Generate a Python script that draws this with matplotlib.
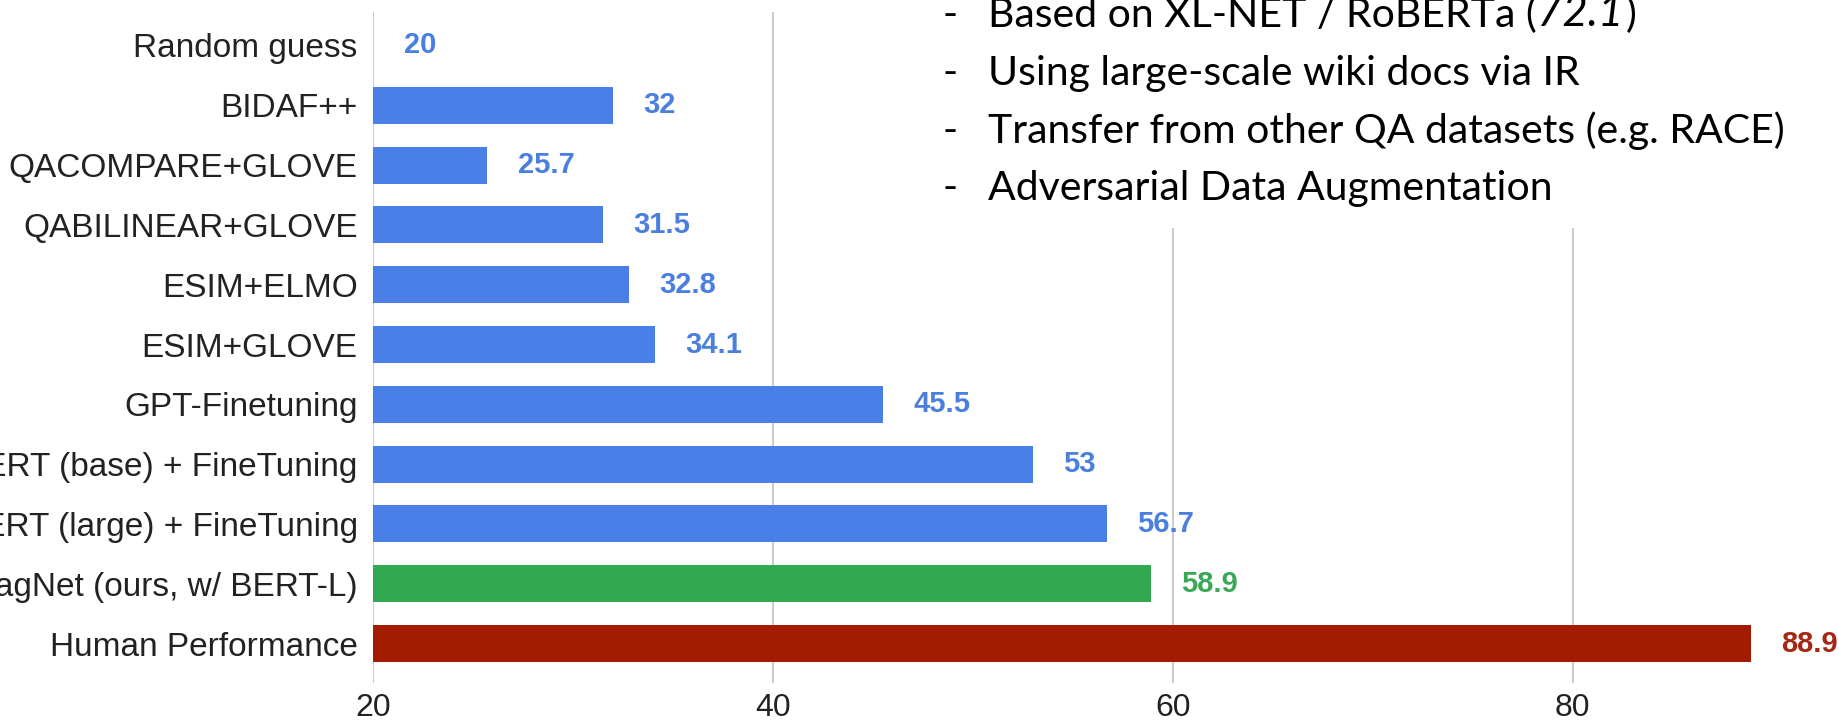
import matplotlib
matplotlib.use("Agg")
import matplotlib.pyplot as plt
from matplotlib.patches import Rectangle
from matplotlib.text import Annotation

# data
models = ["Random guess", "BIDAF++", "QACOMPARE+GLOVE", "QABILINEAR+GLOVE",
          "ESIM+ELMO", "ESIM+GLOVE", "GPT-Finetuning",
          "BERT (base) + FineTuning", "BERT (large) + FineTuning",
          "MagNet (ours, w/ BERT-L)", "Human Performance"]
scores = [20, 32, 25.7, 31.5, 32.8, 34.1, 45.5, 53, 56.7, 58.9, 88.9]
score_labels = ["20", "32", "25.7", "31.5", "32.8", "34.1", "45.5", "53", "56.7", "58.9", "88.9"]
kinds = ["base"] * 9 + ["ours", "human"]
x_ticks = [20, 40, 60, 80]

first_note = "Based on XL-NET / RoBERTa ("
first_note_score = "72.1"
notes = ["Using large-scale wiki docs via IR",
         "Transfer from other QA datasets (e.g. RACE)",
         "Adversarial Data Augmentation"]

bar_colors = {"base": "#4a7fe8", "ours": "#2fa84f", "human": "#a31b00"}
text_colors = {"base": "#4a7fe0", "ours": "#3aa857", "human": "#a52714"}

plt.rcParams['font.family'] = ['Liberation Sans', 'DejaVu Sans']

W, H = 1840, 725
fig = plt.figure(figsize=(W / 100, H / 100), dpi=100)
# axes: x=20 at px 373, 20 units per 400 px; y from px 12 to 683
ax = fig.add_axes([373 / W, (H - 683) / H, 1 - 373 / W - 0.004, (683 - 12) / H])

ypos = list(range(len(models)))
ax.barh(ypos, [s - 20 for s in scores], left=20, height=0.62,
        color=[bar_colors[k] for k in kinds], zorder=2)

for y, s, lab, k in zip(ypos, scores, score_labels, kinds):
    ax.annotate(lab, xy=(s, y), xytext=(22, 0), textcoords="offset points",
                va="center", ha="left", fontsize=21, fontweight="bold",
                color=text_colors[k])

ax.set_xlim(20, 93)
ax.set_ylim(len(models) - 1 + 0.66, -0.56)
ax.set_yticks(ypos)
ax.set_yticklabels(models, fontsize=24)
ax.set_xticks(x_ticks)
ax.set_xticklabels([str(t) for t in x_ticks], fontsize=23)
ax.tick_params(axis="both", length=0, colors="#222222")
ax.tick_params(axis="y", pad=11)
ax.tick_params(axis="x", pad=7)
ax.grid(axis="x", color="#cccccc", linewidth=1.5, zorder=0)
for sp in ax.spines.values():
    sp.set_visible(False)

# white panel for the note list in the top right corner
fig.patches.append(Rectangle((800 / W, 1 - 228 / H), 1, 1, transform=fig.transFigure,
                             facecolor="white", edgecolor="none", zorder=5))

note_font = ['Lato', 'DejaVu Sans']
note_size = 29.5
dash_x = 943 / W
text_x = 988 / W
baselines = [27, 85, 143, 200]

fig.text(dash_x, 1 - baselines[0] / H, "-", fontsize=note_size, family=note_font,
         va="baseline", zorder=6)
t1 = fig.text(text_x, 1 - baselines[0] / H, first_note, fontsize=note_size,
              family=note_font, va="baseline", zorder=6)
t2 = Annotation(first_note_score, xy=(1, 0), xycoords=t1, fontsize=note_size + 2,
                family=note_font, style="italic", va="bottom", ha="left", zorder=6)
fig.add_artist(t2)
t3 = Annotation(")", xy=(1, 0), xycoords=t2, xytext=(2, 0), textcoords="offset points",
                fontsize=note_size, family=note_font, va="bottom", ha="left", zorder=6)
fig.add_artist(t3)
for yy, note in zip(baselines[1:], notes):
    fig.text(dash_x, 1 - yy / H, "-", fontsize=note_size, family=note_font,
             va="baseline", zorder=6)
    fig.text(text_x, 1 - yy / H, note, fontsize=note_size, family=note_font,
             va="baseline", zorder=6)

fig.savefig("out.png", dpi=100)
